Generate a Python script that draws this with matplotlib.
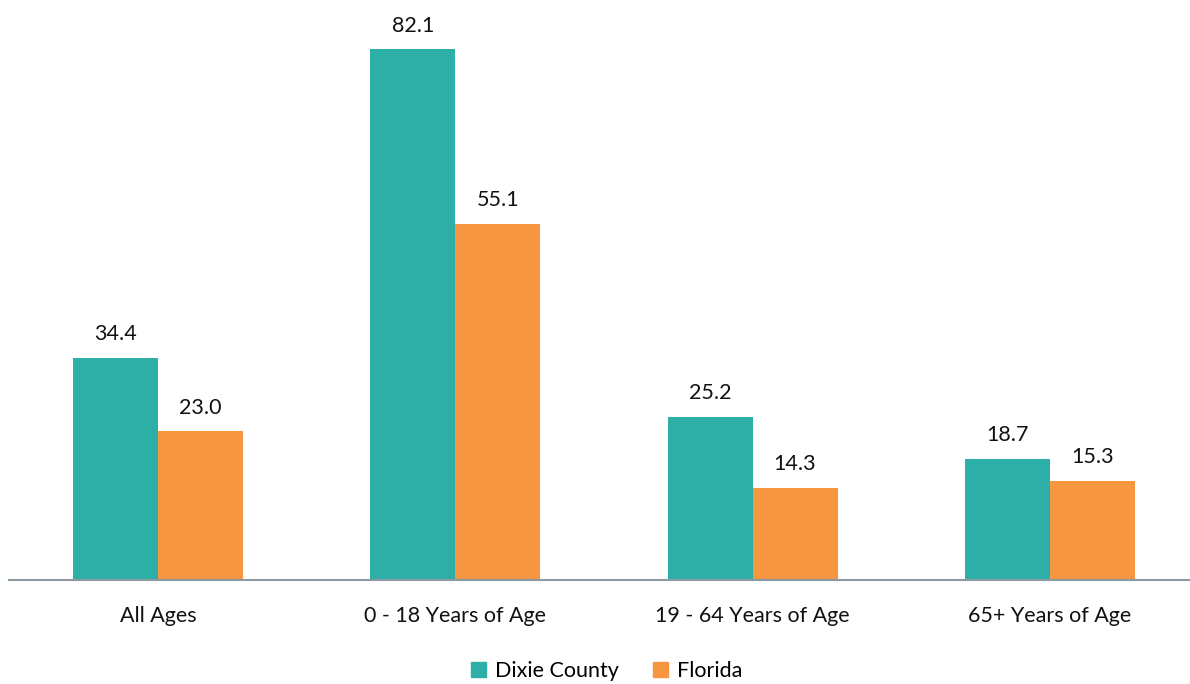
import matplotlib.pyplot as plt
import numpy as np
from matplotlib.patches import Patch

plt.rcParams['font.family'] = ['Lato', 'DejaVu Sans']

categorias = ["All Ages", "0 - 18 Years of Age", "19 - 64 Years of Age", "65+ Years of Age"]
series = ["Dixie County", "Florida"]
dixie = [34.4, 82.1, 25.2, 18.7]
florida = [23.0, 55.1, 14.3, 15.3]

col_dixie = "#2DAEA6"
col_florida = "#F79641"

fig = plt.figure(figsize=(11.9, 6.84), dpi=100)
# el eje se sale un poco por la derecha
ax = fig.add_axes([9.4 / 1190, 104 / 684, 1189 / 1190, 580 / 684])

x = np.arange(len(categorias))
ancho = 0.286

b1 = ax.bar(x - ancho / 2, dixie, ancho, color=col_dixie)
b2 = ax.bar(x + ancho / 2, florida, ancho, color=col_florida)

for barras in (b1, b2):
    for b in barras:
        ax.annotate("{:.1f}".format(b.get_height()),
                    (b.get_x() + b.get_width() / 2, b.get_height()),
                    xytext=(0, 17), textcoords="offset points",
                    ha="center", va="center", fontsize=15.5, color="#111111")

ax.set_xlim(-0.5, len(categorias) - 0.5)
ax.set_ylim(0, 89.7)
ax.set_xticks(x)
ax.set_xticklabels(categorias, fontsize=15.5, color="#111111")
ax.tick_params(axis="x", length=0, pad=19)
ax.set_yticks([])

for lado in ("top", "right", "left"):
    ax.spines[lado].set_visible(False)
ax.spines["bottom"].set_color("#8C9AA2")
ax.spines["bottom"].set_linewidth(1.5)

handles = [Patch(color=col_dixie), Patch(color=col_florida)]
fig.legend(handles, series, loc="center", bbox_to_anchor=(0.51, 1 - 671 / 684),
           ncol=2, frameon=False, fontsize=15.5, handlelength=0.7, handleheight=0.7,
           handletextpad=0.4, columnspacing=1.6)

fig.savefig("out.png", dpi=100)
